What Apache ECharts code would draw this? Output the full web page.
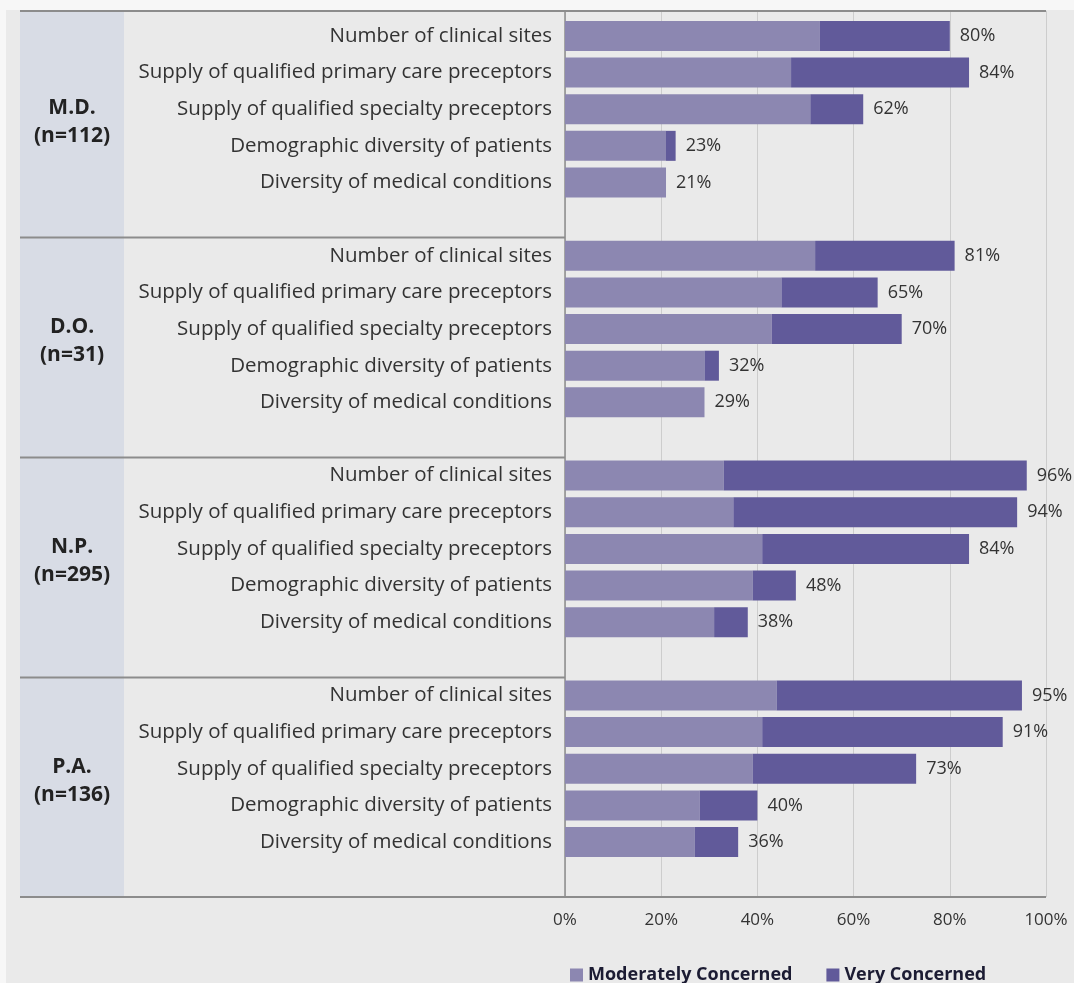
<!DOCTYPE html>
<html>
<head>
<meta charset="utf-8">
<title>Clinical training concerns</title>
<script src="https://cdn.jsdelivr.net/npm/echarts@6/dist/echarts.min.js"></script>
<style>
  html, body { margin: 0; padding: 0; background: #fff; }
  #main { width: 1074px; height: 983px; }
</style>
</head>
<body>
<div id="main"></div>
<script>
// group labels and row labels
var groups = ['M.D.\n(n=112)', 'D.O.\n(n=31)', 'N.P.\n(n=295)', 'P.A.\n(n=136)'];
var items = [
    'Number of clinical sites',
    'Supply of qualified primary care preceptors',
    'Supply of qualified specialty preceptors',
    'Demographic diversity of patients',
    'Diversity of medical conditions'
];
var ticks = ['0%', '20%', '40%', '60%', '80%', '100%'];

// values (percent)
var moderateMD = [53, 47, 51, 21, 21];
var veryMD     = [27, 37, 11, 2, 0];
var moderateDO = [52, 45, 43, 29, 29];
var veryDO     = [29, 20, 27, 3, 0];
var moderateNP = [33, 35, 41, 39, 31];
var veryNP     = [63, 59, 43, 9, 7];
var moderatePA = [44, 41, 39, 28, 27];
var veryPA     = [51, 50, 34, 12, 9];

var moderateAll = [moderateMD, moderateDO, moderateNP, moderatePA];
var veryAll = [veryMD, veryDO, veryNP, veryPA];

// layout
var W = 1074, H = 983;
var plotLeft = 565, plotRight = 1046;
var frameTop = 11, plotTop = 17.6, plotBottom = 897;
var panelLeft = 20, panelRight = 124;
var groupShift = 6; // group names sit a little above the middle of their block
var FONT = '"Open Sans", "Noto Sans", sans-serif';

// one empty slot after each group of five rows
var cats = [], rowLabels = [], modData = [], veryData = [], totalData = [];
for (var g = 0; g < groups.length; g++) {
    for (var i = 0; i < items.length; i++) {
        cats.push('g' + g + 'r' + i);
        rowLabels.push(items[i]);
        modData.push(moderateAll[g][i]);
        veryData.push(veryAll[g][i]);
        totalData.push(moderateAll[g][i] + veryAll[g][i]);
    }
    cats.push('g' + g + 'gap');
    rowLabels.push('');
    modData.push(null);
    veryData.push(null);
    totalData.push(null);
}

var groupH = (plotBottom - plotTop) / groups.length;
var lineStyle = { stroke: '#8c8c8c', lineWidth: 2 };
var graphics = [
    { type: 'rect', z: -10, shape: { x: 0, y: 0, width: W, height: frameTop - 1 }, style: { fill: '#f7f7f7' } },
    { type: 'rect', z: -10, shape: { x: 0, y: 0, width: 6, height: H }, style: { fill: '#f7f7f7' } },
    { type: 'rect', z: -9, shape: { x: panelLeft, y: frameTop, width: panelRight - panelLeft, height: plotBottom - frameTop }, style: { fill: '#d8dce5' } },
    { type: 'line', z: 10, shape: { x1: panelLeft, y1: frameTop, x2: plotRight, y2: frameTop }, style: lineStyle },
    { type: 'line', z: 10, shape: { x1: panelLeft, y1: plotBottom, x2: plotRight, y2: plotBottom }, style: lineStyle }
];
for (var k = 1; k < groups.length; k++) {
    var yy = Math.round(plotTop + k * groupH) + 0.5;
    graphics.push({ type: 'line', z: 10, shape: { x1: panelLeft, y1: yy, x2: plotLeft, y2: yy }, style: lineStyle });
}

var myChart = echarts.init(document.getElementById('main'));

var option = {
    backgroundColor: '#eaeaea',
    animation: false,
    graphic: graphics,
    legend: {
        data: ['Moderately Concerned', 'Very Concerned'],
        left: plotLeft,
        top: 961,
        icon: 'rect',
        itemWidth: 13,
        itemHeight: 13,
        itemGap: 34,
        textStyle: { fontFamily: FONT, fontSize: 18, fontWeight: 'bold', color: '#1c1c33' }
    },
    grid: [
        // bars
        { left: plotLeft, right: W - plotRight, top: plotTop, bottom: H - plotBottom },
        // background: gridlines, axis line and tick labels (reaches the frame top)
        { left: plotLeft, right: W - plotRight, top: frameTop, bottom: H - plotBottom },
        // group names
        { left: plotLeft, right: W - plotRight, top: plotTop - groupShift, bottom: H - plotBottom + groupShift }
    ],
    xAxis: [
        {
            gridIndex: 0, type: 'value', min: 0, max: 100, interval: 20,
            axisLine: { show: false }, axisTick: { show: false },
            axisLabel: { show: false }, splitLine: { show: false }
        },
        {
            gridIndex: 1, type: 'value', min: 0, max: 100, interval: 20,
            axisLine: { show: false }, axisTick: { show: false },
            splitLine: { show: true, lineStyle: { color: '#cdcdcd', width: 1 } },
            axisLabel: {
                margin: 15, fontFamily: FONT, fontSize: 17, color: '#333',
                formatter: function (v) { return ticks[v / 20]; }
            }
        },
        {
            gridIndex: 2, type: 'value', min: 0, max: 100, show: false
        }
    ],
    yAxis: [
        {
            gridIndex: 0, type: 'category', data: cats, inverse: true,
            axisLine: { show: false }, axisTick: { show: false },
            axisLabel: {
                margin: 13, fontFamily: FONT, fontSize: 20.5, color: '#333',
                formatter: function (v, idx) { return rowLabels[idx]; }
            }
        },
        {
            gridIndex: 1, type: 'value', min: 0, max: 1,
            axisLine: { show: true, lineStyle: { color: '#8c8c8c', width: 1.5 } },
            axisTick: { show: false }, axisLabel: { show: false }, splitLine: { show: false }
        },
        {
            // group names sit in the left panel
            gridIndex: 2, type: 'category', data: groups, inverse: true, position: 'left',
            axisLine: { show: false }, axisTick: { show: false },
            axisLabel: {
                margin: plotLeft - (panelLeft + panelRight) / 2, align: 'center',
                fontFamily: FONT, fontSize: 21, fontWeight: 'bold', color: '#222',
                lineHeight: 28
            }
        }
    ],
    series: [
        {
            name: 'Moderately Concerned', type: 'bar', stack: 'c', barWidth: 30,
            xAxisIndex: 0, yAxisIndex: 0, data: modData,
            itemStyle: { color: '#8c87b1' }
        },
        {
            name: 'Very Concerned', type: 'bar', stack: 'c', barWidth: 30,
            xAxisIndex: 0, yAxisIndex: 0, data: veryData,
            itemStyle: { color: '#615a9a' }
        },
        {
            name: 'total', type: 'bar', barWidth: 30, barGap: '-100%', silent: true,
            xAxisIndex: 0, yAxisIndex: 0, data: totalData, z: 1,
            itemStyle: { color: 'rgba(0,0,0,0)' },
            label: {
                show: true, position: 'right', distance: 10,
                fontFamily: FONT, fontSize: 18, color: '#333',
                formatter: function (p) { return p.value + '%'; }
            }
        }
    ]
};

myChart.setOption(option);

window.addEventListener('resize', function () {
    myChart.resize();
});
</script>
</body>
</html>
